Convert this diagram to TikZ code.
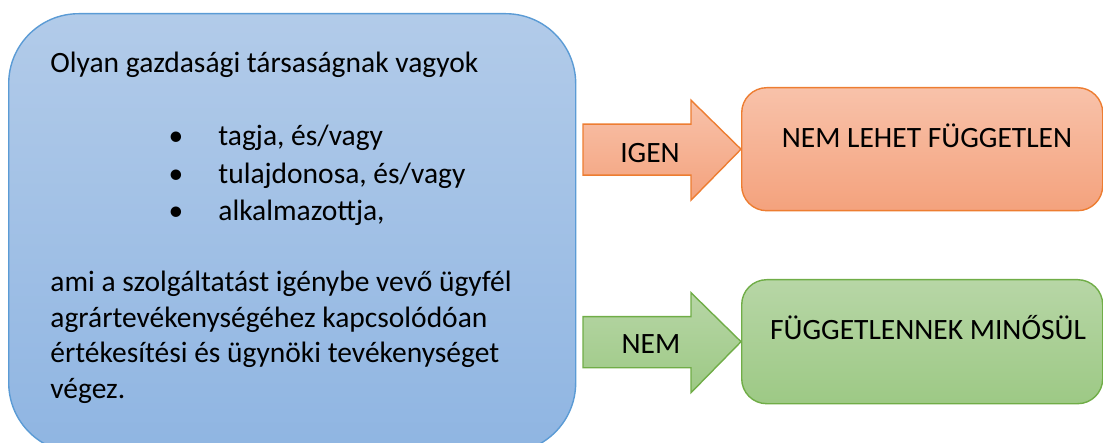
\documentclass[tikz,border=0pt]{standalone}
\usepackage{fontspec}
\setmainfont{Carlito}
\usepackage{tikz}
\usetikzlibrary{calc}
\definecolor{blueline}{RGB}{91,155,213}
\definecolor{bluetop}{RGB}{178,203,233}
\definecolor{bluebot}{RGB}{143,181,226}
\definecolor{orangeline}{RGB}{237,125,49}
\definecolor{orangetop}{RGB}{248,194,170}
\definecolor{orangebot}{RGB}{244,162,125}
\definecolor{greenline}{RGB}{112,173,71}
\definecolor{greentop}{RGB}{183,214,166}
\definecolor{greenbot}{RGB}{157,201,133}

\begin{document}
\begin{tikzpicture}[x=0.5pt,y=-0.5pt,
  box/.style={draw,line width=0.7pt,inner sep=0,rounded corners=12.5pt,anchor=north west},
  bluebox/.style={box,draw=blueline,top color=bluetop,bottom color=bluebot,rounded corners=35pt},
  orangebox/.style={box,draw=orangeline,top color=orangetop,bottom color=orangebot},
  greenbox/.style={box,draw=greenline,top color=greentop,bottom color=greenbot},
  orangearrow/.style={draw=orangeline,line width=0.7pt,line join=miter,top color=orangetop,bottom color=orangebot},
  greenarrow/.style={draw=greenline,line width=0.7pt,line join=miter,top color=greentop,bottom color=greenbot},
  txt/.style={inner sep=0,font=\fontsize{14.75}{18}\selectfont}]
\useasboundingbox (0,0) rectangle (1103,443);
% boxes
\node[bluebox,minimum width=283.5pt,minimum height=219.5pt] (lbox) at (8,13) {};
\node[orangebox,minimum width=180.5pt,minimum height=61.5pt] (obox) at (741,87) {};
\node[greenbox,minimum width=180.5pt,minimum height=62pt] (gbox) at (741,279) {};
% block arrows
\draw[orangearrow] (obox.west) -- ++(-50,-49) -- ++(0,24) -- ++(-108,0) -- ++(0,51) -- ++(108,0) -- ++(0,25) -- cycle;
\draw[greenarrow] (gbox.west) -- ++(-50,-49) -- ++(0,24) -- ++(-108,0) -- ++(0,51) -- ++(108,0) -- ++(0,25) -- cycle;
\node[txt,anchor=base] (igen) at (650,163) {IGEN};
\node[txt,anchor=base] (nem) at (651,353) {NEM};
% texts in the boxes
\node[txt,anchor=base] (onem) at (927,148) {NEM LEHET FÜGGETLEN};
\node[txt,anchor=base] (gfugg) at (928,339) {FÜGGETLENNEK MINŐSÜL};
\node[txt,anchor=base west] (intro) at (50,73) {Olyan gazdasági társaságnak vagyok};
\foreach \t [count=\i] in {{tagja, és/vagy},{tulajdonosa, és/vagy},{alkalmazottja,}}
{
  \node[txt,anchor=base] (dot\i) at (176,{146+37.5*(\i-1)}) {•};
  \node[txt,anchor=base west] (item\i) at (218,{146+37.5*(\i-1)}) {\t};
}
\foreach \t/\y [count=\i] in {ami a szolgáltatást igénybe vevő ügyfél/292,
  agrártevékenységéhez kapcsolódóan/327.5,
  értékesítési és ügynöki tevékenységet/363,
  végez./398}
  \node[txt,anchor=base west] (line\i) at (50,\y) {\t};
\end{tikzpicture}
\end{document}
